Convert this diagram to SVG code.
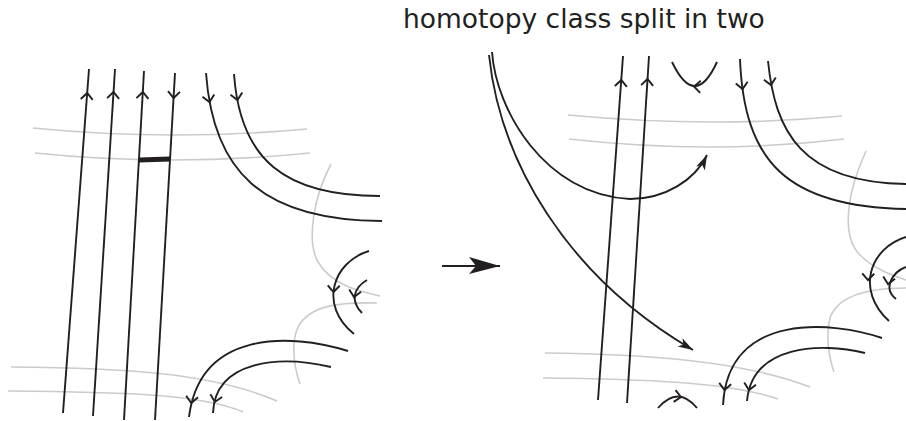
<svg xmlns="http://www.w3.org/2000/svg" xmlns:xlink="http://www.w3.org/1999/xlink" width="906" height="421" viewBox="0 0 906 421">
<style>
.k{fill:none;stroke:#231f20;stroke-width:1.9;stroke-linecap:butt}
.g{fill:none;stroke:#cbcbcb;stroke-width:1.6}
.t{font-family:"DejaVu Sans",Verdana,sans-serif;font-size:26.5px;fill:#231f20}
</style>
<defs>
<path id="chev" class="k" d="M-6.5,-6 L0,0 L-6.5,6"/>
<marker id="ah" markerUnits="userSpaceOnUse" viewBox="-17 -6 18 12" refX="0" refY="0" markerWidth="18" markerHeight="12" orient="auto">
<path d="M0,0 L-15,-4.8 L-11,0 L-15,4.8 Z" fill="#231f20"/>
</marker>
<marker id="bigah" markerUnits="userSpaceOnUse" viewBox="-33 -10 34 20" refX="0" refY="0" markerWidth="34" markerHeight="20" orient="auto">
<path d="M0,0 L-31,-9 L-24,0 L-31,8 Z" fill="#231f20"/>
</marker>
</defs>
<rect width="906" height="421" fill="#ffffff"/>
<text id="title" class="t" x="403" y="28">homotopy class split in two</text>

<g id="left-panel">
<g id="left-gray">
<path class="g" d="M33,128 Q170,141.5 307,129"/>
<path class="g" d="M35,153 Q170,167 310,153"/>
<path class="g" d="M331,164 C314,196 306,240 318,262 C332,285 358,291 380,296"/>
<path class="g" d="M377,303 C340,302 310,305 298,327 C290,345 295,370 300,384"/>
<path class="g" d="M11,367 C120,368 210,372 277,401"/>
<path class="g" d="M8,391 C110,392 200,393 243,412"/>
</g>
<g id="left-strands">
<path class="k" d="M89,69 L63,413"/>
<path class="k" d="M115,69 L93,416"/>
<path class="k" d="M144,71 L124,420"/>
<path class="k" d="M175,73 L155,420"/>
<path d="M139,160 L170,159" stroke="#231f20" stroke-width="5" fill="none"/>
<path class="k" d="M206,73 C213,170 260,220 382,221"/>
<path class="k" d="M234,74 C240,160 285,196 380,196"/>
<path class="k" d="M369,251 C333,262 318,305 354,334"/>
<path class="k" d="M367,280 C355,287 349,300 362,313"/>
<path class="k" d="M348,351 C290,333 200,330 189,417"/>
<path class="k" d="M331,367 C280,355 215,360 213,413"/>
</g>
<g id="left-arrowheads">
<use xlink:href="#chev" transform="translate(87.2,93) rotate(-85.7)"/>
<use xlink:href="#chev" transform="translate(113.5,92) rotate(-86.4)"/>
<use xlink:href="#chev" transform="translate(142.8,92) rotate(-86.7)"/>
<use xlink:href="#chev" transform="translate(173.6,98) rotate(93.3)"/>
<use xlink:href="#chev" transform="translate(209.5,102) rotate(80)"/>
<use xlink:href="#chev" transform="translate(237.5,100) rotate(80)"/>
<use xlink:href="#chev" transform="translate(333.5,292) rotate(92)"/>
<use xlink:href="#chev" transform="translate(354,297) rotate(100)"/>
<use xlink:href="#chev" transform="translate(191.3,403) rotate(97)"/>
<use xlink:href="#chev" transform="translate(214.8,402) rotate(103)"/>
</g>
</g>

<g id="connectors">
<path class="k" d="M442,266 L500,266" marker-end="url(#bigah)"/>
<path class="k" d="M492,52 C496,110 545,195 630,199 C665,199 695,180 707,155" marker-end="url(#ah)"/>
<path class="k" d="M489,55 C500,160 565,275 693,350" marker-end="url(#ah)"/>
</g>

<g id="right-panel">
<g id="right-gray">
<path class="g" d="M568,115 Q713,128.5 842,116"/>
<path class="g" d="M569,139 Q713,155 844,139"/>
<path class="g" d="M866,151 C848,190 840,235 860,255 C875,270 895,276 906,280"/>
<path class="g" d="M906,288 C870,288 838,295 830,318 C825,340 830,360 834,372"/>
<path class="g" d="M545,353 C640,354 740,360 810,387"/>
<path class="g" d="M543,378 C640,379 730,382 778,399"/>
</g>
<g id="right-strands">
<path class="k" d="M623,56 L598,400"/>
<path class="k" d="M649,56 L627,403"/>
<path class="k" d="M672,62 Q695,110 717,62"/>
<path class="k" d="M740,59 C744,160 785,208 910,209"/>
<path class="k" d="M768,61 C775,130 800,184 910,184"/>
<path class="k" d="M906,237 C870,248 855,290 889,321"/>
<path class="k" d="M906,267 C893,272 882,288 896,299"/>
<path class="k" d="M882,338 C835,322 728,310 723,405"/>
<path class="k" d="M865,353 C820,342 752,345 747,401"/>
<path class="k" d="M658,408 Q678,385 697,408"/>
</g>
<g id="right-arrowheads">
<use xlink:href="#chev" transform="translate(621.3,80) rotate(-85.8)"/>
<use xlink:href="#chev" transform="translate(647.5,79) rotate(-86.4)"/>
<use xlink:href="#chev" transform="translate(694,86.5) rotate(183)"/>
<use xlink:href="#chev" transform="translate(742.6,89) rotate(82)"/>
<use xlink:href="#chev" transform="translate(771,85) rotate(80)"/>
<use xlink:href="#chev" transform="translate(868,280) rotate(92)"/>
<use xlink:href="#chev" transform="translate(888,284) rotate(100)"/>
<use xlink:href="#chev" transform="translate(724.5,390) rotate(96)"/>
<use xlink:href="#chev" transform="translate(749,390) rotate(100)"/>
<use xlink:href="#chev" transform="translate(681,397) rotate(9)"/>
</g>
</g>
</svg>
